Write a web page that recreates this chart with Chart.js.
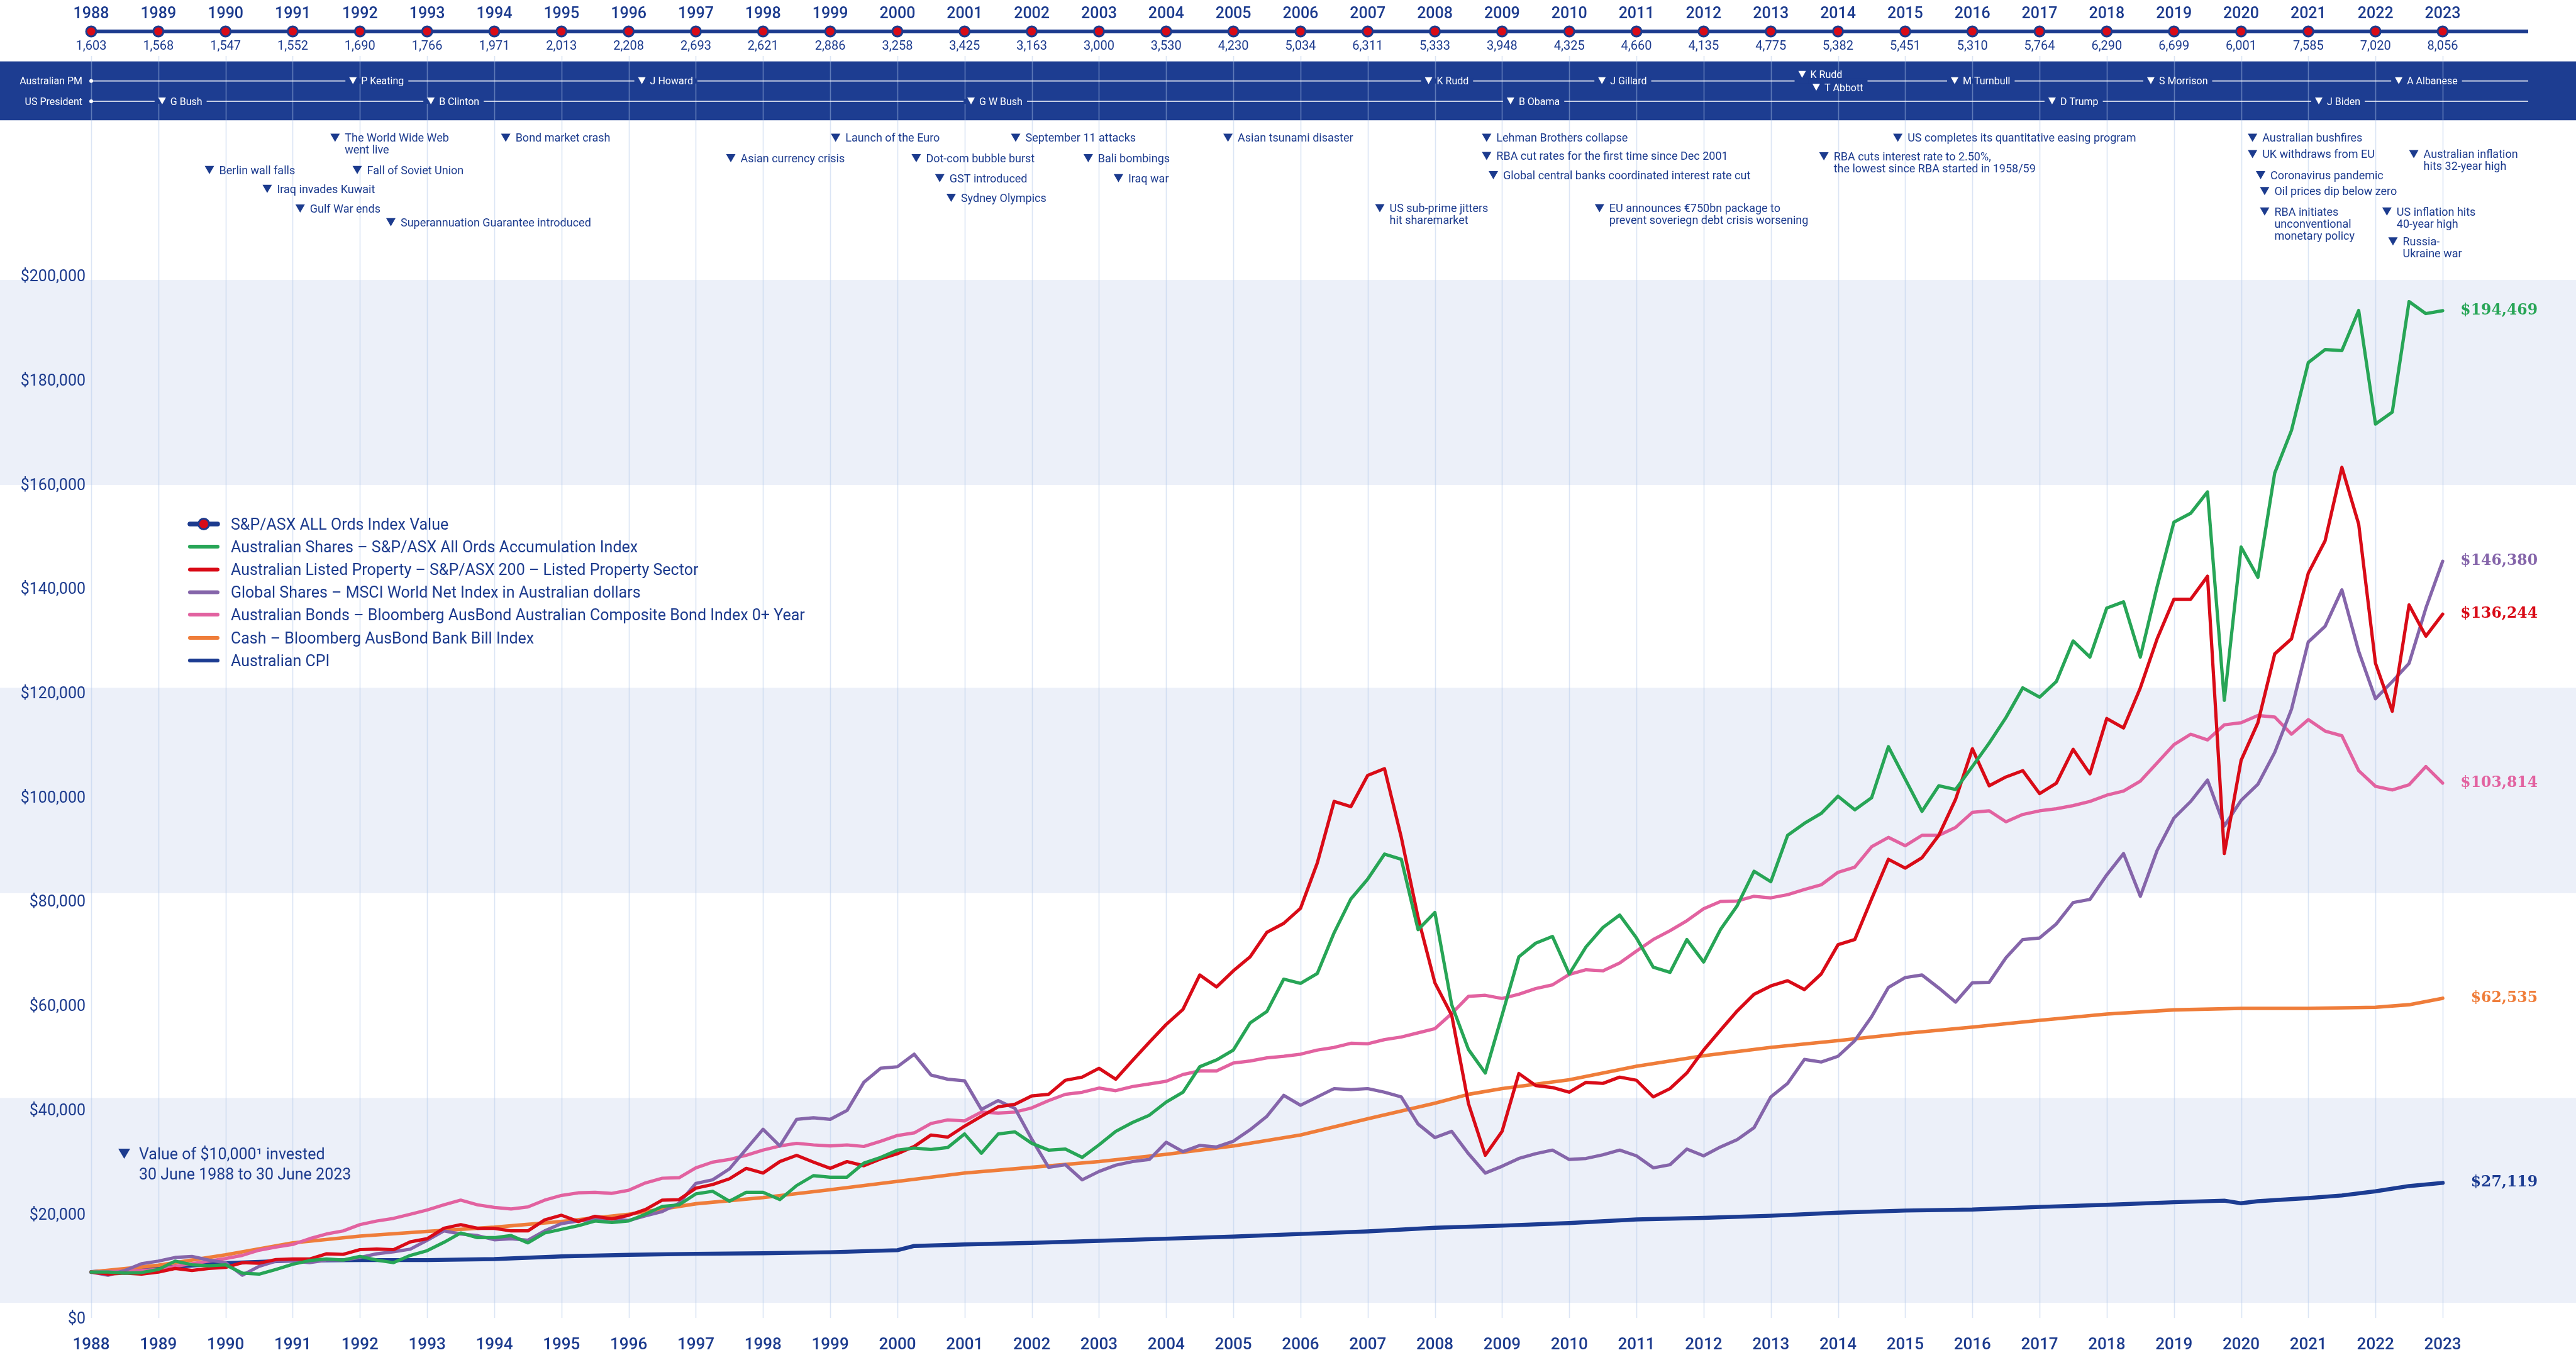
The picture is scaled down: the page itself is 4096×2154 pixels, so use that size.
<!DOCTYPE html>
<html>
<head>
<meta charset="utf-8">
<script src="https://cdn.jsdelivr.net/npm/chart.js@4.4.0/dist/chart.umd.min.js"></script>
<style>
  html, body { margin: 0; padding: 0; background: #ffffff; }
  #wrap { position: relative; width: 4096px; height: 2154px; overflow: hidden; }
  #main, #timeline { position: absolute; left: 0; top: 0; }
</style>
</head>
<body>
<div id="wrap">
  <canvas id="main" width="4096" height="2154"></canvas>
  <canvas id="timeline" width="4096" height="100"></canvas>
</div>
<script>
// ---- data ----
const years = [1988, 1989, 1990, 1991, 1992, 1993, 1994, 1995, 1996, 1997, 1998, 1999, 2000, 2001, 2002, 2003, 2004, 2005,
  2006, 2007, 2008, 2009, 2010, 2011, 2012, 2013, 2014, 2015, 2016, 2017, 2018, 2019, 2020, 2021, 2022, 2023];
const ordsIndexValues = [1603, 1568, 1547, 1552, 1690, 1766, 1971, 2013, 2208, 2693, 2621, 2886, 3258, 3425, 3163, 3000, 3530, 4230,
  5034, 6311, 5333, 3948, 4325, 4660, 4135, 4775, 5382, 5451, 5310, 5764, 6290, 6699, 6001, 7585, 7020, 8056];

// quarterly observations, 30 June 1988 .. 30 June 2023
const quarterDates = Array.from({ length: 141 }, (_, i) => 1988 + i / 4);

const sharesValues = [
  10000, 10000, 9800, 9900, 10500, 12100, 11400, 11200, 11400, 9800, 9600, 10500, 11500, 12200, 12500, 12300,
  13000, 12300, 11800, 13200, 14100, 15700, 17500, 16600, 16600, 17000, 15600, 17500, 18200, 18900, 19800, 19500,
  19800, 21100, 22600, 22900, 25000, 25500, 23600, 25300, 25300, 23900, 26600, 28500, 28200, 28200, 30900, 32000,
  33400, 33800, 33500, 33900, 36500, 32800, 36500, 36900, 34700, 33400, 33600, 32000, 34400, 37000, 38700, 40100,
  42600, 44500, 49400, 50700, 52600, 57800, 60000, 66200, 65400, 67300, 75100, 81600, 85400, 90200, 89200, 75700,
  79000, 61300, 52700, 48200, 59300, 70500, 73100, 74400, 67200, 72400, 76100, 78500, 74100, 68500, 67500, 73800,
  69500, 75700, 80300, 86900, 84900, 93800, 96100, 98000, 101300, 98700, 101000, 110800, 104600, 98400, 103300, 102600,
  107000, 111500, 116400, 122100, 120300, 123300, 131100, 128000, 137400, 138600, 128000, 141500, 153900, 155600, 159700, 119700,
  149100, 143300, 163300, 171500, 184500, 187000, 186800, 194500, 172700, 175000, 196200, 193900, 194469];

const propertyValues = [
  10000, 9600, 9800, 9600, 10000, 10700, 10300, 10700, 10900, 11800, 11700, 12400, 12500, 12500, 13500, 13400,
  14300, 14400, 14300, 15800, 16400, 18400, 19100, 18400, 18400, 17900, 17900, 20000, 20900, 19700, 20700, 20200,
  20900, 22000, 23800, 23900, 26100, 26800, 27900, 29900, 29000, 31200, 32400, 31100, 29900, 31200, 30400, 31700,
  32700, 34100, 36300, 35900, 38000, 39900, 41700, 42200, 43800, 44100, 46800, 47400, 49100, 47000, 50600, 54100,
  57500, 60400, 67000, 64700, 67800, 70500, 75200, 76900, 79800, 88500, 100300, 99300, 105300, 106600, 93400, 78000,
  65500, 59300, 42300, 32400, 37000, 48100, 45800, 45400, 44500, 46400, 46200, 47400, 46800, 43600, 45200, 48200,
  52600, 56400, 60100, 63300, 64900, 65900, 64200, 67200, 72800, 73800, 81600, 89200, 87500, 89500, 93800, 100700,
  110400, 103300, 105000, 106200, 101800, 103800, 110300, 105600, 116200, 114400, 122100, 131500, 139100, 139100, 143500, 90300,
  108200, 115400, 128600, 131500, 144100, 150300, 164400, 153500, 126800, 117600, 138000, 132000, 136244];

const globalValues = [
  10000, 9400, 10300, 11600, 12100, 12800, 13000, 12300, 11800, 9400, 11100, 12100, 12100, 11800, 12300, 12300,
  12800, 13500, 13900, 14400, 16100, 17900, 17300, 17000, 16200, 16400, 16100, 17900, 19300, 19800, 20100, 20200,
  19900, 20800, 21600, 23200, 27000, 27700, 29800, 33600, 37400, 34200, 39300, 39600, 39300, 41000, 46400, 49100,
  49400, 51800, 47800, 47000, 46700, 41200, 42900, 41400, 35500, 30100, 30600, 27700, 29300, 30500, 31200, 31600,
  34900, 33100, 34300, 34000, 35100, 37300, 39900, 43900, 42000, 43600, 45200, 45000, 45200, 44500, 43600, 38400,
  35800, 37000, 32700, 29000, 30300, 31800, 32700, 33400, 31600, 31800, 32500, 33400, 32300, 30000, 30600, 33600,
  32300, 34000, 35400, 37700, 43600, 46200, 50800, 50300, 51400, 54400, 59000, 64600, 66500, 67000, 64500, 61800,
  65500, 65600, 70300, 73800, 74100, 76800, 80900, 81500, 86200, 90300, 82100, 90900, 97100, 100300, 104400, 95600,
  100500, 103600, 109700, 118000, 130900, 133900, 140900, 129100, 120000, 123300, 126800, 137400, 146380];

const bondsValues = [
  10000, 10100, 10200, 10300, 10500, 11100, 11600, 12100, 12600, 13200, 14200, 14800, 15300, 16400, 17300, 17900,
  19100, 19800, 20300, 21100, 21900, 22900, 23800, 22900, 22400, 22100, 22500, 23800, 24700, 25200, 25300, 25100,
  25700, 27100, 28000, 28100, 30000, 31100, 31600, 32400, 33400, 34200, 34700, 34400, 34200, 34400, 34100, 35100,
  36200, 36700, 38500, 39200, 39000, 40700, 40500, 40700, 41500, 42900, 44100, 44500, 45300, 44800, 45600, 46100,
  46600, 47900, 48600, 48600, 50100, 50500, 51100, 51400, 51800, 52600, 53100, 53900, 53800, 54600, 55100, 55900,
  56700, 59600, 62900, 63100, 62500, 63300, 64400, 65100, 67100, 68000, 67800, 69300, 71600, 73800, 75500, 77400,
  79700, 81100, 81200, 82100, 81800, 82400, 83400, 84300, 86700, 87700, 91600, 93400, 91800, 93800, 93800, 95300,
  98200, 98500, 96400, 97800, 98500, 98900, 99500, 100300, 101500, 102300, 104200, 107700, 111200, 113200, 112100, 115000,
  115400, 116800, 116500, 113200, 116000, 113800, 112900, 106200, 103200, 102500, 103500, 107000, 103814];

const cashDates = [1988, 1989, 1990, 1991, 1992, 1993, 1994, 1995, 1996, 1997, 1998, 1999, 2000, 2001, 2002, 2003, 2004, 2005,
  2006, 2007, 2008, 2008.5, 2009, 2010, 2011, 2012, 2013, 2014, 2015, 2016, 2017, 2018, 2019, 2020, 2021, 2022, 2022.5, 2023];
const cashValues = [10000, 11300, 13300, 15600, 16900, 17800, 18600, 19700, 21100, 23100, 24300, 25800, 27400, 29000, 30100, 31200, 32600, 34200,
  36300, 39400, 42400, 44100, 45200, 46900, 49500, 51500, 53100, 54400, 55800, 57000, 58300, 59500, 60300, 60600, 60600, 60800, 61300, 62535];

const cpiDates = [1988, 1989, 1990, 1991, 1992, 1993, 1994, 1995, 1996, 1997, 1998, 1999, 2000, 2000.25, 2001, 2002, 2003, 2004, 2005,
  2006, 2007, 2008, 2009, 2010, 2011, 2012, 2013, 2014, 2015, 2016, 2017, 2018, 2019, 2019.75, 2020, 2020.25, 2021, 2021.5, 2022, 2022.5, 2023];
const cpiValues = [10000, 10800, 11700, 12200, 12300, 12300, 12500, 13000, 13300, 13500, 13600, 13800, 14200, 15000, 15300, 15600, 16000, 16400, 16800,
  17300, 17800, 18500, 18900, 19400, 20100, 20400, 20800, 21400, 21800, 22000, 22500, 22900, 23400, 23700, 23200, 23600, 24200, 24700, 25500, 26500, 27119];

const seriesNames = [
  'S&P/ASX ALL Ords Index Value',
  'Australian Shares \u2013 S&P/ASX All Ords Accumulation Index',
  'Australian Listed Property \u2013 S&P/ASX 200 \u2013 Listed Property Sector',
  'Global Shares \u2013 MSCI World Net Index in Australian dollars',
  'Australian Bonds \u2013 Bloomberg AusBond Australian Composite Bond Index 0+ Year',
  'Cash \u2013 Bloomberg AusBond Bank Bill Index',
  'Australian CPI'
];

const yTicks = [0, 20000, 40000, 60000, 80000, 100000, 120000, 140000, 160000, 180000, 200000];

const primeMinisters = [['P Keating', 1991.84, 0], ['J Howard', 1996.14, 0], ['K Rudd', 2007.85, 0], ['J Gillard', 2010.43, 0],
  ['K Rudd', 2013.41, -10], ['T Abbott', 2013.62, 10.5], ['M Turnbull', 2015.68, 0], ['S Morrison', 2018.6, 0], ['A Albanese', 2022.29, 0]];
const presidents = [['G Bush', 1989.0], ['B Clinton', 1993.0], ['G W Bush', 2001.04], ['B Obama', 2009.07], ['D Trump', 2017.13], ['J Biden', 2021.1]];

// [lines, year, first line y]
const events = [
  [['The World Wide Web', 'went live'], 1991.56, 219],
  [['Bond market crash'], 1994.10, 219],
  [['Launch of the Euro'], 1999.01, 219],
  [['September 11 attacks'], 2001.69, 219],
  [['Asian tsunami disaster'], 2004.85, 219],
  [['Asian currency crisis'], 1997.45, 251.5],
  [['Dot-com bubble burst'], 2000.21, 251.5],
  [['Bali bombings'], 2002.77, 251.5],
  [['Berlin wall falls'], 1989.69, 270.3],
  [['Fall of Soviet Union'], 1991.89, 270.3],
  [['GST introduced'], 2000.56, 283.3],
  [['Iraq war'], 2003.22, 283.3],
  [['Iraq invades Kuwait'], 1990.55, 300.3],
  [['Sydney Olympics'], 2000.73, 314.4],
  [['Gulf War ends'], 1991.04, 331.5],
  [['Superannuation Guarantee introduced'], 1992.39, 353.2],
  [['Lehman Brothers collapse'], 2008.70, 219],
  [['RBA cut rates for the first time since Dec 2001'], 2008.70, 248],
  [['Global central banks coordinated interest rate cut'], 2008.80, 278.6],
  [['US sub-prime jitters', 'hit sharemarket'], 2007.11, 330.9],
  [['EU announces \u20ac750bn package to', 'prevent soveriegn debt crisis worsening'], 2010.38, 330.9],
  [['US completes its quantitative easing program'], 2014.82, 219],
  [['RBA cuts interest rate to 2.50%,', 'the lowest since RBA started in 1958/59'], 2013.72, 248.6],
  [['Australian bushfires'], 2020.10, 219],
  [['UK withdraws from EU'], 2020.10, 245],
  [['Australian inflation', 'hits 32-year high'], 2022.50, 245],
  [['Coronavirus pandemic'], 2020.22, 278.6],
  [['Oil prices dip below zero'], 2020.28, 303.8],
  [['RBA initiates', 'unconventional', 'monetary policy'], 2020.28, 336.2],
  [['US inflation hits', '40-year high'], 2022.10, 336.2],
  [['Russia-', 'Ukraine war'], 2022.19, 383.8]
];

// ---- styling ----
const NAVY = '#1c3b8e';
const BAND_NAVY = '#1d3d91';
const GREEN = '#27a556';
const RED = '#d90b17';
const PURPLE = '#8565aa';
const PINK = '#e262a0';
const ORANGE = '#ef7d3a';
const CPI_BLUE = '#1c3c92';
const SHADE = '#ecf0f9';
const FONT = 'Roboto, "Noto Sans", sans-serif';
const shadeBands = [[4100, 43400], [82700, 122100], [161000, 200350]];

Chart.defaults.font.family = FONT;

function pairs(xs, ys) {
  return xs.map((x, i) => ({ x: x, y: ys[i] }));
}

function lineSet(label, data, color, width) {
  return {
    label: label, data: data, borderColor: color, backgroundColor: color,
    borderWidth: width, pointRadius: 0, tension: 0, clip: false,
    borderJoinStyle: 'round', borderCapStyle: 'round'
  };
}

function tri(ctx, x, top, w, h, color) {
  ctx.fillStyle = color;
  ctx.beginPath();
  ctx.moveTo(x, top);
  ctx.lineTo(x + w, top);
  ctx.lineTo(x + w / 2, top + h);
  ctx.closePath();
  ctx.fill();
}

const LINE_END = 4020;

const backdrop = {
  id: 'backdrop',
  beforeDraw(chart) {
    const ctx = chart.ctx, xs = chart.scales.x, ys = chart.scales.y;
    ctx.save();
    ctx.fillStyle = SHADE;
    shadeBands.forEach(b => {
      const y1 = ys.getPixelForValue(b[1]), y0 = ys.getPixelForValue(b[0]);
      ctx.fillRect(0, y1, chart.width, y0 - y1);
    });
    // leaders band
    ctx.fillStyle = BAND_NAVY;
    ctx.fillRect(0, 97.6, chart.width, 93.6);
    // year grid
    ctx.strokeStyle = 'rgba(175,198,232,0.45)';
    ctx.lineWidth = 1.6;
    years.forEach(y => {
      const x = Math.round(xs.getPixelForValue(y)) + 0.5;
      ctx.beginPath();
      ctx.moveTo(x, 89);
      ctx.lineTo(x, 2095);
      ctx.stroke();
    });
    ctx.restore();
  }
};

const overlay = {
  id: 'overlay',
  afterDraw(chart) {
    const ctx = chart.ctx, xs = chart.scales.x;
    const x0 = xs.getPixelForValue(1988);
    ctx.save();

    // leaders rows
    const rows = [['Australian PM', 128.7, primeMinisters], ['US President', 161, presidents]];
    ctx.font = '16px ' + FONT;
    rows.forEach(r => {
      const rowY = r[1];
      ctx.strokeStyle = '#ffffff';
      ctx.lineWidth = 1.6;
      ctx.beginPath();
      ctx.moveTo(x0, rowY);
      ctx.lineTo(LINE_END, rowY);
      ctx.stroke();
      ctx.fillStyle = '#ffffff';
      ctx.beginPath();
      ctx.arc(x0, rowY, 3, 0, Math.PI * 2);
      ctx.fill();
      ctx.textAlign = 'right';
      ctx.textBaseline = 'alphabetic';
      ctx.fillText(r[0], 131, rowY + 5.7);
      ctx.textAlign = 'left';
      r[2].forEach(p => {
        const x = xs.getPixelForValue(p[1]);
        const w = ctx.measureText(p[0]).width;
        ctx.fillStyle = BAND_NAVY;
        ctx.fillRect(x - 6, rowY - 4, w + 20 + 12, 8);
      });
      r[2].forEach(p => {
        const x = xs.getPixelForValue(p[1]);
        const cy = rowY + (p[2] || 0);
        tri(ctx, x, cy - 6, 12, 11, '#ffffff');
        ctx.fillStyle = '#ffffff';
        ctx.fillText(p[0], x + 19, cy + 5.7);
      });
    });

    // events
    ctx.font = '18px ' + FONT;
    ctx.textAlign = 'left';
    events.forEach(ev => {
      const x = xs.getPixelForValue(ev[1]);
      const y = ev[2];
      tri(ctx, x, y - 6.5, 15, 13, NAVY);
      ctx.fillStyle = NAVY;
      ev[0].forEach((line, i) => {
        ctx.fillText(line, x + 23, y + 6.4 + i * 19);
      });
    });

    // legend
    const legY = [833, 869, 905.5, 941.5, 977, 1014, 1050];
    const legColors = [NAVY, GREEN, RED, PURPLE, PINK, ORANGE, CPI_BLUE];
    ctx.font = '25px ' + FONT;
    ctx.lineCap = 'round';
    seriesNames.forEach((name, i) => {
      const y = legY[i];
      ctx.strokeStyle = legColors[i];
      ctx.lineWidth = i === 0 ? 7.5 : 6;
      ctx.beginPath();
      ctx.moveTo(302, y);
      ctx.lineTo(346, y);
      ctx.stroke();
      if (i === 0) {
        ctx.fillStyle = RED;
        ctx.strokeStyle = NAVY;
        ctx.lineWidth = 3;
        ctx.beginPath();
        ctx.arc(324, y, 8.5, 0, Math.PI * 2);
        ctx.fill();
        ctx.stroke();
      }
      ctx.fillStyle = NAVY;
      ctx.fillText(name, 367, y + 8.9);
    });

    // note
    tri(ctx, 188, 1826, 19, 16, NAVY);
    ctx.fillStyle = NAVY;
    ctx.font = '25px ' + FONT;
    ctx.fillText('Value of $10,000\u00b9 invested', 221, 1843);
    ctx.fillText('30 June 1988 to 30 June 2023', 221, 1875);

    // end values
    ctx.font = 'bold 23.5px "DejaVu Serif", serif';
    ctx.textAlign = 'right';
    ctx.textBaseline = 'middle';
    chart.data.datasets.forEach((ds, i) => {
      const meta = chart.getDatasetMeta(i);
      const last = meta.data[meta.data.length - 1];
      const v = ds.data[ds.data.length - 1].y;
      ctx.fillStyle = ds.borderColor;
      ctx.fillText('$' + v.toLocaleString('en-US'), 4035, last.y);
    });
    ctx.restore();
  }
};

new Chart(document.getElementById('main'), {
  type: 'line',
  data: {
    datasets: [
      lineSet(seriesNames[1], pairs(quarterDates, sharesValues), GREEN, 5.2),
      lineSet(seriesNames[2], pairs(quarterDates, propertyValues), RED, 5.2),
      lineSet(seriesNames[3], pairs(quarterDates, globalValues), PURPLE, 5.2),
      lineSet(seriesNames[4], pairs(quarterDates, bondsValues), PINK, 5.2),
      lineSet(seriesNames[5], pairs(cashDates, cashValues), ORANGE, 5.6),
      lineSet(seriesNames[6], pairs(cpiDates, cpiValues), CPI_BLUE, 6.4)
    ]
  },
  options: {
    responsive: false,
    animation: false,
    devicePixelRatio: 1,
    layout: { padding: { top: 448, right: 212, left: 0, bottom: 0 } },
    plugins: { legend: { display: false }, tooltip: { enabled: false } },
    scales: {
      x: {
        type: 'linear', min: 1988, max: 2023,
        grid: { display: false, drawTicks: false }, border: { display: false },
        ticks: {
          stepSize: 1, autoSkip: false, maxRotation: 0, padding: 18, color: NAVY,
          font: { size: 26, weight: '500' }, callback: v => String(v)
        },
        afterFit: s => { s.height = 49; }
      },
      y: {
        min: 0, max: 200000,
        grid: { display: false, drawTicks: false }, border: { display: false },
        afterBuildTicks: s => { s.ticks = yTicks.map(v => ({ value: v })); },
        ticks: {
          padding: 9, labelOffset: -7, color: NAVY, font: { size: 25 },
          callback: v => '$' + v.toLocaleString('en-US')
        },
        afterFit: s => { s.width = 145; }
      }
    }
  },
  plugins: [backdrop, overlay]
});

// ---- index value timeline across the top ----
const timelineDraw = {
  id: 'timelineDraw',
  beforeDatasetsDraw(chart) {
    const ctx = chart.ctx, xs = chart.scales.x, ys = chart.scales.y;
    const y = ys.getPixelForValue(0);
    ctx.save();
    ctx.strokeStyle = NAVY;
    ctx.lineWidth = 6;
    ctx.beginPath();
    ctx.moveTo(xs.getPixelForValue(1988) - 4, y);
    ctx.lineTo(LINE_END, y);
    ctx.stroke();
    ctx.restore();
  },
  afterDatasetsDraw(chart) {
    const ctx = chart.ctx;
    const meta = chart.getDatasetMeta(0);
    ctx.save();
    ctx.fillStyle = NAVY;
    ctx.textAlign = 'center';
    ctx.textBaseline = 'middle';
    meta.data.forEach((pt, i) => {
      ctx.font = '500 25px ' + FONT;
      ctx.fillText(String(years[i]), pt.x, pt.y - 27.5);
      ctx.font = '20px ' + FONT;
      ctx.fillText(ordsIndexValues[i].toLocaleString('en-US'), pt.x, pt.y + 24);
    });
    ctx.restore();
  }
};

new Chart(document.getElementById('timeline'), {
  type: 'line',
  data: {
    datasets: [{
      label: seriesNames[0],
      data: years.map(y => ({ x: y, y: 0 })),
      showLine: false, clip: false,
      pointRadius: 8, pointBackgroundColor: RED, pointBorderColor: NAVY, pointBorderWidth: 3
    }]
  },
  options: {
    responsive: false,
    animation: false,
    devicePixelRatio: 1,
    layout: { padding: { top: 0, right: 212, left: 145, bottom: 0 } },
    plugins: { legend: { display: false }, tooltip: { enabled: false } },
    scales: {
      x: { type: 'linear', display: false, min: 1988, max: 2023 },
      y: { display: false, min: -1, max: 1 }
    }
  },
  plugins: [timelineDraw]
});
</script>
</body>
</html>
